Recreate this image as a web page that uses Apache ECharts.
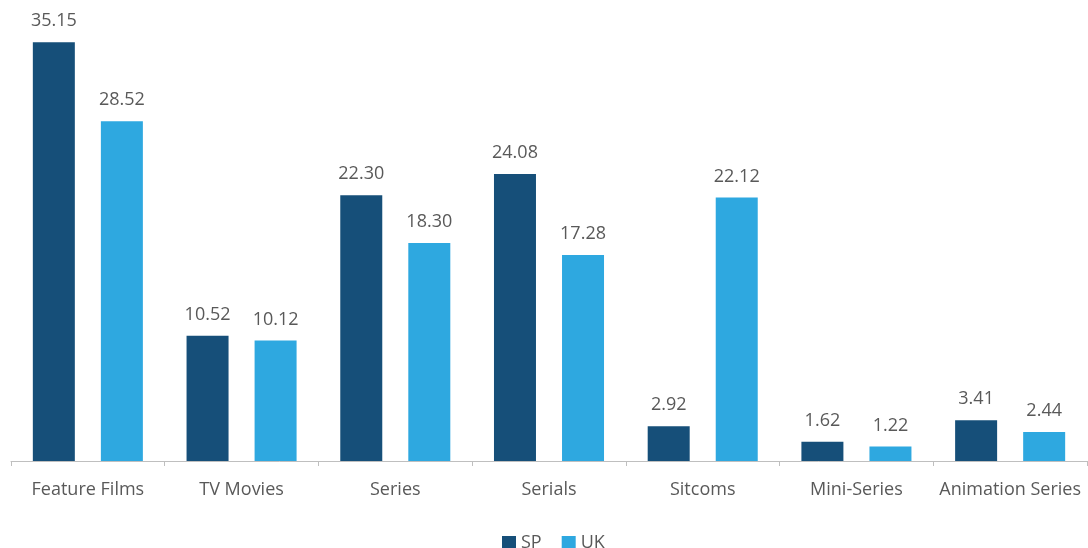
<!DOCTYPE html>
<html>
<head>
<meta charset="utf-8">
<script src="https://cdn.jsdelivr.net/npm/echarts@6/dist/echarts.min.js"></script>
<style>
  html, body { margin: 0; padding: 0; background: #ffffff; }
  #chart { width: 1088px; height: 548px; }
</style>
</head>
<body>
<div id="chart"></div>
<script>
// Genre categories along the x axis
const categories = ['Feature Films', 'TV Movies', 'Series', 'Serials', 'Sitcoms', 'Mini-Series', 'Animation Series'];
// Values per market
const spValues = [35.15, 10.52, 22.30, 24.08, 2.92, 1.62, 3.41];
const ukValues = [28.52, 10.12, 18.30, 17.28, 22.12, 1.22, 2.44];

const FONT = '"Open Sans", "Noto Sans", sans-serif';
const TEXT = '#595959';

const chart = echarts.init(document.getElementById('chart'));

const labelCfg = {
  show: true,
  position: 'top',
  distance: 12,
  color: TEXT,
  fontFamily: FONT,
  fontSize: 18,
  formatter: p => p.value.toFixed(2)
};

chart.setOption({
  animation: false,
  grid: { left: 11, right: 1, top: 32, bottom: 87, containLabel: false },
  legend: {
    top: 529,
    left: 497,
    itemWidth: 14,
    itemHeight: 14,
    itemGap: 20,
    icon: 'rect',
    textStyle: { color: TEXT, fontFamily: FONT, fontSize: 18, padding: [0, 0, 0, 0] },
    data: ['SP', 'UK']
  },
  xAxis: {
    type: 'category',
    data: categories,
    axisLine: { lineStyle: { color: '#bfbfbf', width: 1 } },
    axisTick: { show: true, length: 5, lineStyle: { color: '#bfbfbf' } },
    axisLabel: { interval: 0, color: TEXT, fontFamily: FONT, fontSize: 18, margin: 20 }
  },
  yAxis: {
    type: 'value',
    min: 0,
    max: 36,
    show: false,
    splitLine: { show: false }
  },
  series: [
    {
      name: 'SP',
      type: 'bar',
      data: spValues,
      barWidth: 42,
      barGap: '62%',
      itemStyle: { color: '#164f79' },
      label: labelCfg
    },
    {
      name: 'UK',
      type: 'bar',
      data: ukValues,
      barWidth: 42,
      itemStyle: { color: '#2ea8e0' },
      label: labelCfg
    }
  ]
});
</script>
</body>
</html>
